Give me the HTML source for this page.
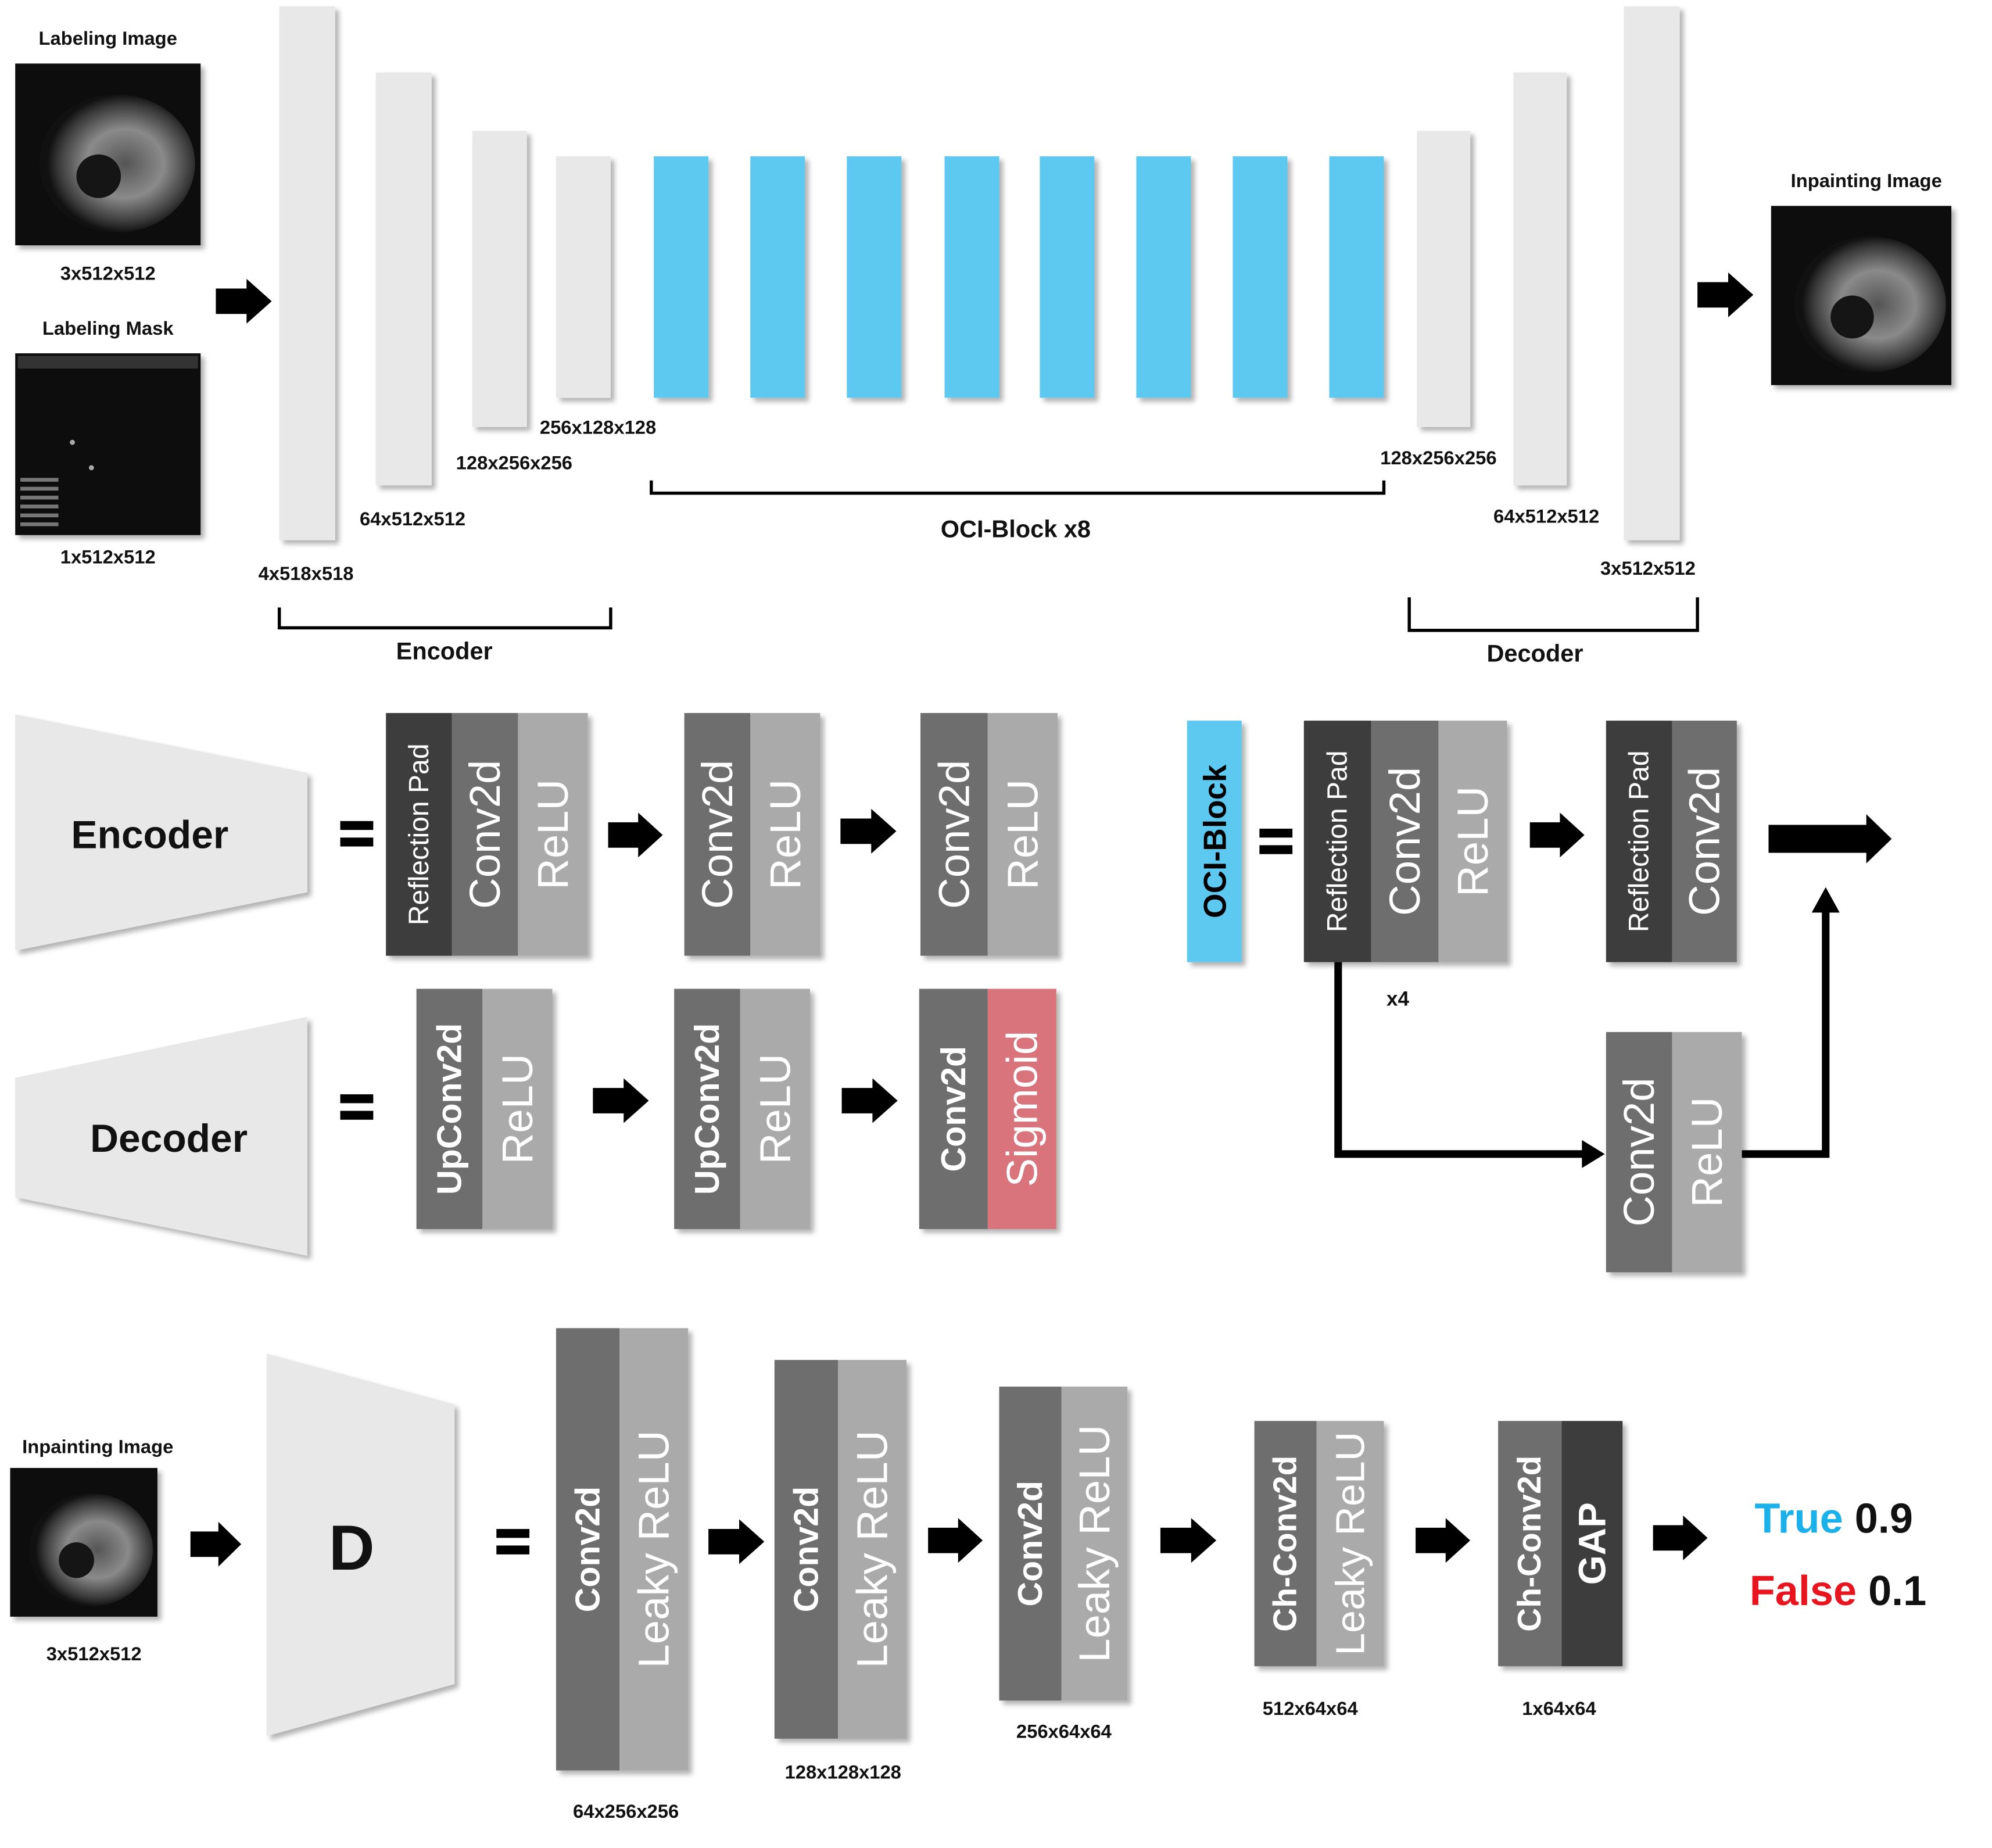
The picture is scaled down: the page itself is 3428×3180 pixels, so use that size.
<!DOCTYPE html>
<html><head><meta charset="utf-8"><style>
html,body{margin:0;padding:0;background:#fff}
svg{display:block}
text{font-family:"Liberation Sans","DejaVu Sans",sans-serif}
</style></head><body>
<svg id="s" xmlns="http://www.w3.org/2000/svg" width="3428" height="3180" viewBox="0 0 1569 1454" preserveAspectRatio="none">
<defs>
<filter id="sh" x="-20%" y="-20%" width="150%" height="150%"><feDropShadow dx="3" dy="3" stdDeviation="2" flood-color="#000" flood-opacity="0.3"/></filter>
<radialGradient id="us" cx="0.55" cy="0.5" r="0.5"><stop offset="0" stop-color="#555"/><stop offset="0.5" stop-color="#8a8a8a"/><stop offset="0.85" stop-color="#3a3a3a"/><stop offset="1" stop-color="#111"/></radialGradient>
</defs>
</svg>
<script>
const NS='http://www.w3.org/2000/svg';
const svg=document.getElementById('s');
function mk(tag,attrs,name,parent){
  const el=document.createElementNS(NS,tag);
  for(const k in attrs) el.setAttribute(k,attrs[k]);
  
  
  (parent||svg).appendChild(el);
  return el;
}
function txt(x,y,s,size,name,opts){
  opts=opts||{};
  const t=mk('text',{x:x,y:y,'font-size':size,'font-weight':opts.w||'bold','text-anchor':opts.a||'middle','dominant-baseline':'central',fill:opts.fill||'#111'},name);
  t.textContent=s; return t;
}
function vtxt(cx,cy,s,size,name,fill,w){
  const t=mk('text',{x:cx,y:cy,'font-size':size,'font-weight':w||'normal','text-anchor':'middle','dominant-baseline':'central',fill:fill,transform:'rotate(-90 '+cx+' '+cy+')'},name);
  t.textContent=s; return t;
}
function arrow(x1,x2,y,h,name){
  const hw=h*0.55, head=Math.min(20,(x2-x1)*0.45), b=h/2;
  mk('polygon',{points:[[x1,y-b],[x2-head,y-b],[x2-head,y-hw*1.6],[x2,y],[x2-head,y+hw*1.6],[x2-head,y+b],[x1,y+b]].map(p=>p.join(',')).join(' '),fill:'#000'},name);
}
function eq(x,y,name){
  mk('rect',{x:x-13,y:y-10,width:26,height:7,fill:'#000'},name+'-top');
  mk('rect',{x:x-13,y:y+3,width:26,height:7,fill:'#000'},name+'-bottom');
}
function block(x,y,h,cols,name){
  const g=mk('g',{filter:'url(#sh)'},name);
  let cx=x;
  cols.forEach((c,i)=>{
    const r=document.createElementNS(NS,'rect');
    r.setAttribute('x',cx);r.setAttribute('y',y);r.setAttribute('width',c.w);r.setAttribute('height',h);r.setAttribute('fill',c.f);
    
    
    g.appendChild(r);
    cx+=c.w;
  });
  cx=x;
  cols.forEach((c,i)=>{
    vtxt(cx+c.w/2,y+h/2,c.t,c.s,'layer-label-'+c.t.toLowerCase().replace(/\s+/g,'-'),c.tf||'#fff',c.b?'bold':'normal');
    cx+=c.w;
  });
}
function bar(x1,x2,y1,y2,fill,name){ mk('rect',{x:x1,y:y1,width:x2-x1,height:y2-y1,fill:fill,filter:'url(#sh)'},name); }
function usImg(x,y,w,h,name,mask){
  mk('rect',{x:x,y:y,width:w,height:h,fill:'#080808',filter:'url(#sh)'},name);
  if(!mask){
    mk('ellipse',{cx:x+w*0.55,cy:y+h*0.55,rx:w*0.42,ry:h*0.38,fill:'url(#us)'},name+'-content');
    mk('ellipse',{cx:x+w*0.45,cy:y+h*0.62,rx:w*0.12,ry:h*0.12,fill:'#151515'},name+'-cyst');
  } else {
    mk('rect',{x:x+2,y:y+2,width:w-4,height:10,fill:'#333'},name+'-header');
    for(let i=0;i<6;i++) mk('rect',{x:x+4,y:y+h-45+i*7,width:30,height:3,fill:'#777'},name+'-text-line');
    mk('circle',{cx:x+45,cy:y+70,r:2,fill:'#aaa'},name+'-dot');
    mk('circle',{cx:x+60,cy:y+90,r:2,fill:'#aaa'},name+'-dot');
  }
}
const LG='#e8e8e8', BLUE='#5dc9f1', DK='#3d3d3d', MD='#6e6e6e', LT='#aaaaaa', PINK='#d9737b';

txt(85,30,'Labeling Image',15,'labeling-image-title');
usImg(12,50,146,143,'labeling-image');
txt(85,215,'3x512x512',15,'labeling-image-size');
txt(85,258,'Labeling Mask',15,'labeling-mask-title');
usImg(12,278,146,143,'labeling-mask',true);
txt(85,438,'1x512x512',15,'labeling-mask-size');
arrow(170,214,237,20,'input-arrow');

bar(220,264,5,425,LG,'encoder-bar-1'); txt(241,451,'4x518x518',15,'encoder-bar-1-size');
bar(296,340,57,382,LG,'encoder-bar-2'); txt(325,408,'64x512x512',15,'encoder-bar-2-size');
bar(372,415,103,336,LG,'encoder-bar-3'); txt(405,364,'128x256x256',15,'encoder-bar-3-size');
bar(438,481,123,313,LG,'encoder-bar-4'); txt(471,336,'256x128x128',15,'encoder-bar-4-size');
[515,591,667,744,819,895,971,1047].forEach((x,i)=>bar(x,x+43,123,313,BLUE,'oci-block-bar-'+(i+1)));
mk('path',{d:'M513,378 V388 H1090 V378',fill:'none',stroke:'#000','stroke-width':2.5},'oci-bracket');
txt(800,416,'OCI-Block x8',19,'oci-bracket-label');
bar(1116,1158,103,336,LG,'decoder-bar-1'); txt(1133,360,'128x256x256',15,'decoder-bar-1-size');
bar(1192,1234,57,382,LG,'decoder-bar-2'); txt(1218,406,'64x512x512',15,'decoder-bar-2-size');
bar(1279,1323,5,425,LG,'decoder-bar-3'); txt(1298,447,'3x512x512',15,'decoder-bar-3-size');
arrow(1337,1381,232,20,'output-arrow');
txt(1470,142,'Inpainting Image',15,'inpainting-image-title');
usImg(1395,162,142,141,'inpainting-image');
mk('path',{d:'M220,478 V494 H481 V478',fill:'none',stroke:'#000','stroke-width':2.5},'encoder-bracket');
txt(350,512,'Encoder',19,'encoder-bracket-label');
mk('path',{d:'M1110,470 V496 H1337 V470',fill:'none',stroke:'#000','stroke-width':2.5},'decoder-bracket');
txt(1209,514,'Decoder',19,'decoder-bracket-label');

mk('polygon',{points:'12,562 242,608 242,702 12,748',fill:LG,filter:'url(#sh)'},'encoder-trapezoid');
txt(118,657,'Encoder',31,'encoder-trapezoid-label');
eq(281,656,'encoder-equals');
block(304,561,191,[{w:52,f:DK,t:'Reflection Pad',s:22},{w:52,f:MD,t:'Conv2d',s:34},{w:55,f:LT,t:'ReLU',s:34}],'encoder-block-1');
arrow(479,522,657,20,'encoder-arrow-1');
block(539,561,191,[{w:52,f:MD,t:'Conv2d',s:34},{w:55,f:LT,t:'ReLU',s:34}],'encoder-block-2');
arrow(662,706,654,20,'encoder-arrow-2');
block(725,561,191,[{w:53,f:MD,t:'Conv2d',s:34},{w:55,f:LT,t:'ReLU',s:34}],'encoder-block-3');

mk('polygon',{points:'12,848 242,800 242,988 12,942',fill:LG,filter:'url(#sh)'},'decoder-trapezoid');
txt(133,896,'Decoder',31,'decoder-trapezoid-label');
eq(281,871,'decoder-equals');
block(328,778,189,[{w:52,f:MD,t:'UpConv2d',s:27,b:1},{w:55,f:LT,t:'ReLU',s:34}],'decoder-block-1');
arrow(467,511,866,20,'decoder-arrow-1');
block(531,778,189,[{w:52,f:MD,t:'UpConv2d',s:27,b:1},{w:55,f:LT,t:'ReLU',s:34}],'decoder-block-2');
arrow(663,707,866,20,'decoder-arrow-2');
block(724,778,189,[{w:54,f:MD,t:'Conv2d',s:27,b:1},{w:54,f:PINK,t:'Sigmoid',s:34}],'decoder-block-3');

bar(935,978,567,757,BLUE,'oci-block-bar');
vtxt(957,662,'OCI-Block',25,'oci-block-label','#000','bold');
eq(1005,662,'oci-equals');
block(1027,567,190,[{w:53,f:DK,t:'Reflection Pad',s:22},{w:53,f:MD,t:'Conv2d',s:34},{w:54,f:LT,t:'ReLU',s:34}],'oci-block-1');
txt(1101,786,'x4',16,'repeat-x4-label');
arrow(1205,1248,657,20,'oci-arrow-1');
block(1265,567,190,[{w:52,f:DK,t:'Reflection Pad',s:22},{w:51,f:MD,t:'Conv2d',s:34}],'oci-block-2');
arrow(1393,1490,660,22,'oci-output-arrow');
mk('path',{d:'M1054,757 V908 H1248',fill:'none',stroke:'#000','stroke-width':6},'skip-connection-line');
mk('polygon',{points:'1246,897 1264,908 1246,919',fill:'#000'},'skip-connection-arrowhead');
block(1265,812,189,[{w:52,f:MD,t:'Conv2d',s:34},{w:55,f:LT,t:'ReLU',s:34}],'oci-skip-block');
mk('path',{d:'M1372,908 H1438 V716',fill:'none',stroke:'#000','stroke-width':6},'merge-line');
mk('polygon',{points:'1427,718 1438,698 1449,718',fill:'#000'},'merge-arrowhead');

txt(77,1138,'Inpainting Image',15,'disc-input-title');
usImg(8,1155,116,117,'disc-input-image');
txt(74,1301,'3x512x512',15,'disc-input-size');
arrow(150,190,1215,20,'disc-input-arrow');
mk('polygon',{points:'210,1065 358,1105 358,1325 210,1366',fill:LG,filter:'url(#sh)'},'discriminator-trapezoid');
txt(277,1218,'D',50,'discriminator-label');
eq(404,1213,'disc-equals');
block(438,1045,348,[{w:50,f:MD,t:'Conv2d',s:27,b:1},{w:54,f:LT,t:'Leaky ReLU',s:34}],'disc-block-1');
txt(493,1425,'64x256x256',15,'disc-block-1-size');
arrow(558,602,1213,20,'disc-arrow-1');
block(610,1070,298,[{w:50,f:MD,t:'Conv2d',s:27,b:1},{w:54,f:LT,t:'Leaky ReLU',s:34}],'disc-block-2');
txt(664,1394,'128x128x128',15,'disc-block-2-size');
arrow(731,774,1212,20,'disc-arrow-2');
block(787,1091,247,[{w:49,f:MD,t:'Conv2d',s:27,b:1},{w:52,f:LT,t:'Leaky ReLU',s:34}],'disc-block-3');
txt(838,1362,'256x64x64',15,'disc-block-3-size');
arrow(914,958,1212,20,'disc-arrow-3');
block(988,1118,193,[{w:49,f:MD,t:'Ch-Conv2d',s:26,b:1},{w:53,f:LT,t:'Leaky ReLU',s:32}],'disc-block-4');
txt(1032,1344,'512x64x64',15,'disc-block-4-size');
arrow(1115,1158,1212,20,'disc-arrow-4');
block(1180,1118,193,[{w:50,f:MD,t:'Ch-Conv2d',s:26,b:1},{w:48,f:DK,t:'GAP',s:30,b:1}],'disc-block-5');
txt(1228,1344,'1x64x64',15,'disc-block-5-size');
arrow(1302,1345,1210,20,'disc-output-arrow');
const t1=mk('text',{x:1382,y:1195,'font-size':33,'font-weight':'bold','dominant-baseline':'central'},'true-score');
t1.innerHTML='<tspan fill="#1ab0ea">True</tspan><tspan fill="#111"> 0.9</tspan>';
const t2=mk('text',{x:1378,y:1252,'font-size':33,'font-weight':'bold','dominant-baseline':'central'},'false-score');
t2.innerHTML='<tspan fill="#e8141e">False</tspan><tspan fill="#111"> 0.1</tspan>';
</script>
</body></html>
